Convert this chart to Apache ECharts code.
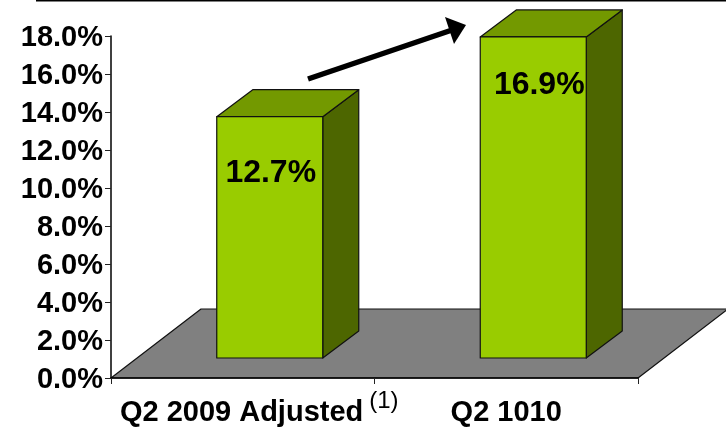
<!DOCTYPE html>
<html>
<head>
<meta charset="utf-8">
<style>html,body{margin:0;padding:0;background:#fff}#chart{width:726px;height:429px}</style>
<script src="https://cdn.jsdelivr.net/npm/echarts@6/dist/echarts.min.js"></script>
</head>
<body>
<div id="chart"></div>
<script>
// Margin by quarter
const categories = ['Q2 2009 Adjusted', 'Q2 1010'];
const marginValues = [12.7, 16.9];
const valueTicks = { min: 0, max: 18, step: 2 };

// Look of the pseudo-3D columns
const FONT = '"Liberation Sans", Arial, sans-serif';
const COL = { front: '#99CC00', top: '#739900', side: '#4D6600', floor: '#808080', edge: '#111' };
const COL_WIDTH = 106;
const WALL = { dx: 27, dy: -20 };      // front plane sits ahead of the axis plane
const DEPTH = { dx: 36, dy: -27 };     // column depth
const FLOOR = { dx: 90, dy: -69 };     // floor depth
const LABEL_SHIFT = [[1, 56], [6, 48]];

function poly(points, fill) {
  return {
    type: 'polygon',
    shape: { points },
    style: { fill, stroke: COL.edge, lineWidth: 1.2, lineJoin: 'round' }
  };
}

function renderFloor(params, api) {
  const origin = api.coord([0, 0]);
  const band = api.size([1, 0])[0];
  const x0 = origin[0] - band / 2;
  const x1 = x0 + band * categories.length;
  const y = origin[1];
  return poly([
    [x0, y], [x1, y],
    [x1 + FLOOR.dx, y + FLOOR.dy],
    [x0 + FLOOR.dx, y + FLOOR.dy]
  ], COL.floor);
}

function renderColumn(params, api) {
  const i = api.value(0);
  const topPt = api.coord([i, api.value(1)]);
  const basePt = api.coord([i, 0]);
  const l = topPt[0] + WALL.dx - COL_WIDTH / 2;
  const r = l + COL_WIDTH;
  const t = topPt[1] + WALL.dy;
  const b = basePt[1] + WALL.dy;
  const d = DEPTH;
  return {
    type: 'group',
    children: [
      poly([[r, t], [r + d.dx, t + d.dy], [r + d.dx, b + d.dy], [r, b]], COL.side),
      poly([[l, t], [r, t], [r + d.dx, t + d.dy], [l + d.dx, t + d.dy]], COL.top),
      poly([[l, t], [r, t], [r, b], [l, b]], COL.front),
      {
        type: 'text',
        style: {
          x: (l + r) / 2 + LABEL_SHIFT[i][0],
          y: t + LABEL_SHIFT[i][1],
          text: api.value(1).toFixed(1) + '%',
          align: 'center',
          verticalAlign: 'middle',
          font: 'bold 32px ' + FONT,
          fill: '#000'
        }
      }
    ]
  };
}

const chart = echarts.init(document.getElementById('chart'), null, { renderer: 'canvas' });
chart.setOption({
  animation: false,
  backgroundColor: '#fff',
  grid: { left: 111, right: 88, top: 36, bottom: 51, outerBoundsMode: 'none' },
  xAxis: {
    type: 'category',
    data: categories,
    z: 6,
    axisLine: { lineStyle: { color: '#000', width: 1.5 } },
    axisTick: { show: true, length: 6, interval: 0, lineStyle: { color: '#222', width: 1 } },
    axisLabel: {
      margin: 11,
      interval: 0,
      hideOverlap: false,
      fontFamily: FONT,
      formatter: (name, idx) => idx === 0 ? `{pad|}{main|${name}}{sup|(1)}` : `{main|${name}}`,
      rich: {
        pad: { width: 33 },
        main: { fontFamily: FONT, fontWeight: 'bold', fontSize: 29, color: '#000', lineHeight: 48 },
        sup: { fontFamily: FONT, fontWeight: 'normal', fontSize: 24, color: '#000', lineHeight: 24, verticalAlign: 'top', padding: [0, 0, 0, 6] }
      }
    }
  },
  yAxis: {
    type: 'value',
    min: valueTicks.min,
    max: valueTicks.max,
    interval: valueTicks.step,
    z: 6,
    splitLine: { show: false },
    axisLine: { show: true, lineStyle: { color: '#000', width: 1.5 } },
    axisTick: { show: true, length: 6, lineStyle: { color: '#222', width: 1 } },
    axisLabel: {
      margin: 8,
      fontFamily: FONT,
      formatter: v => `{v|${v.toFixed(1)}%}`,
      rich: {
        v: { fontFamily: FONT, fontWeight: 'bold', fontSize: 29, color: '#000', padding: [4, 0, 0, 0] }
      }
    }
  },
  series: [
    { type: 'custom', z: 1, renderItem: renderFloor, data: [[0, 0]], encode: { x: 0, y: 1 }, silent: true },
    {
      type: 'custom', z: 3, renderItem: renderColumn,
      data: marginValues.map((v, i) => [i, v]),
      encode: { x: 0, y: 1 }
    }
  ],
  graphic: [
    { type: 'line', z: 5, shape: { x1: 36, y1: 0.5, x2: 726, y2: 0.5 }, style: { stroke: '#000', lineWidth: 2 } },
    { type: 'line', z: 5, shape: { x1: 308, y1: 79, x2: 452, y2: 30 }, style: { stroke: '#000', lineWidth: 5.5 } },
    { type: 'polygon', z: 5, shape: { points: [[445, 17], [466, 25], [454, 44]] }, style: { fill: '#000' } }
  ]
});
</script>
</body>
</html>
